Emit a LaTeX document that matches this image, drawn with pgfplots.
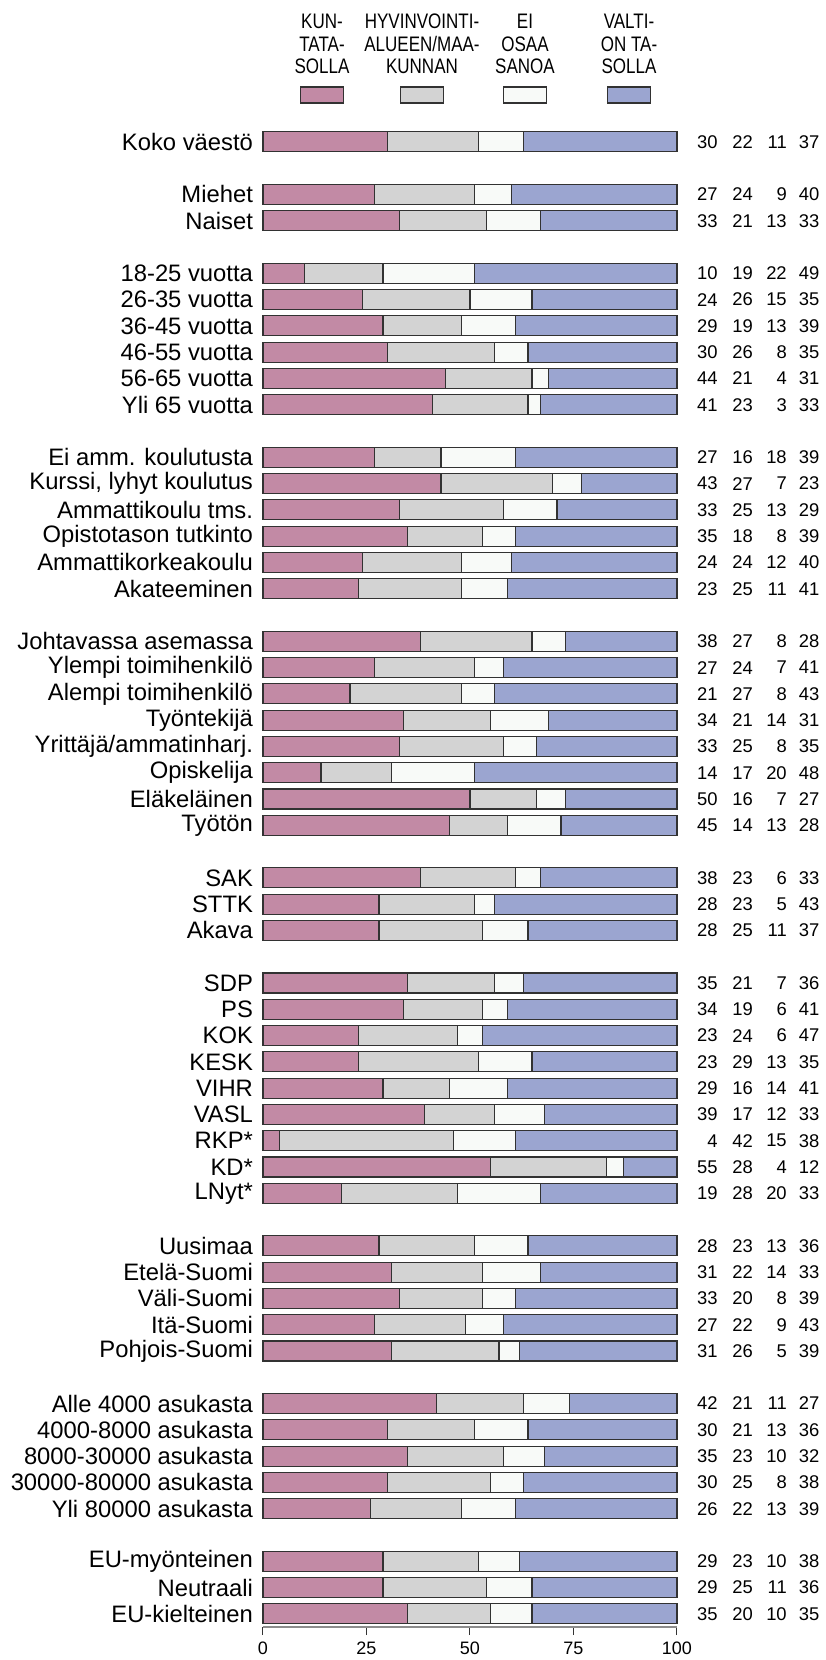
\documentclass[border=0pt]{standalone}
\usepackage{fontspec}
\setmainfont{Liberation Sans}
\newfontfamily\narrowfont[FakeStretch=0.81]{Liberation Sans}
\usepackage{pgfplots}
\usepackage{pgfplotstable}
\pgfplotsset{compat=1.18}
\definecolor{kunta}{RGB}{194,138,165}
\definecolor{hyvi}{RGB}{211,211,211}
\definecolor{eos}{RGB}{248,250,248}
\definecolor{valtio}{RGB}{155,165,208}
\definecolor{edge}{RGB}{50,50,50}

% pos = row slot (groups separated by one empty slot)
% a-d = printed shares, dbar = width of the blue segment as drawn
\pgfplotstableread[col sep=semicolon]{
pos;label;a;b;c;d;dbar
0;Koko väestö;30;22;11;37;37
-2;Miehet;27;24;9;40;40
-3;Naiset;33;21;13;33;33
-5;18-25 vuotta;10;19;22;49;49
-6;26-35 vuotta;24;26;15;35;35
-7;36-45 vuotta;29;19;13;39;39
-8;46-55 vuotta;30;26;8;35;36
-9;56-65 vuotta;44;21;4;31;31
-10;Yli 65 vuotta;41;23;3;33;33
-12;Ei amm. koulutusta;27;16;18;39;39
-13;Kurssi, lyhyt koulutus;43;27;7;23;23
-14;Ammattikoulu tms.;33;25;13;29;29
-15;Opistotason tutkinto;35;18;8;39;39
-16;Ammattikorkeakoulu;24;24;12;40;40
-17;Akateeminen;23;25;11;41;41
-19;Johtavassa asemassa;38;27;8;28;27
-20;Ylempi toimihenkilö;27;24;7;41;42
-21;Alempi toimihenkilö;21;27;8;43;44
-22;Työntekijä;34;21;14;31;31
-23;Yrittäjä/ammatinharj.;33;25;8;35;34
-24;Opiskelija;14;17;20;48;49
-25;Eläkeläinen;50;16;7;27;27
-26;Työtön;45;14;13;28;28
-28;SAK;38;23;6;33;33
-29;STTK;28;23;5;43;44
-30;Akava;28;25;11;37;36
-32;SDP;35;21;7;36;37
-33;PS;34;19;6;41;41
-34;KOK;23;24;6;47;47
-35;KESK;23;29;13;35;35
-36;VIHR;29;16;14;41;41
-37;VASL;39;17;12;33;32
-38;RKP*;4;42;15;38;39
-39;KD*;55;28;4;12;13
-40;LNyt*;19;28;20;33;33
-42;Uusimaa;28;23;13;36;36
-43;Etelä-Suomi;31;22;14;33;33
-44;Väli-Suomi;33;20;8;39;39
-45;Itä-Suomi;27;22;9;43;42
-46;Pohjois-Suomi;31;26;5;39;38
-48;Alle 4000 asukasta;42;21;11;27;26
-49;4000-8000 asukasta;30;21;13;36;36
-50;8000-30000 asukasta;35;23;10;32;32
-51;30000-80000 asukasta;30;25;8;38;37
-52;Yli 80000 asukasta;26;22;13;39;39
-54;EU-myönteinen;29;23;10;38;38
-55;Neutraali;29;25;11;36;35
-56;EU-kielteinen;35;20;10;35;35
}\data

\begin{document}
\begin{tikzpicture}
\useasboundingbox (-131.5pt,-16.5pt) rectangle (281pt,813.5pt);

\begin{axis}[
    at={(0,0)}, anchor=south west,
    scale only axis, width=207pt, height=755.7pt,
    xbar stacked, bar width=10pt,
    xmin=0, xmax=100, ymin=-56.5, ymax=1,
    enlargelimits=false,
    axis lines*=left,
    axis line style={-},
    y axis line style={draw=none},
    x axis line style={draw=black!45, line width=1pt},
    xtick={0,25,50,75,100},
    ytick=data,
    yticklabels from table={\data}{label},
    ytick style={draw=none},
    xtick style={draw=black!80, line width=0.5pt},
    tick align=outside,
    major tick length=4pt,
    yticklabel style={font=\fontsize{11.9}{14}\selectfont, xshift=2.5pt},
    xticklabel style={font=\fontsize{9}{11}\selectfont},
    /pgf/number format/assume math mode=true,
    clip=false,
]
\addplot[fill=kunta, draw=edge, line width=0.6pt] table[x=a, y=pos] {\data};
\addplot[fill=hyvi, draw=edge, line width=0.6pt] table[x=b, y=pos] {\data};
\addplot[fill=eos, draw=edge, line width=0.6pt] table[x=c, y=pos] {\data};
\addplot[fill=valtio, draw=edge, line width=0.6pt] table[x=dbar, y=pos] {\data};
\end{axis}

% printed shares to the right of the bars
\begin{axis}[
    at={(0,0)}, anchor=south west,
    scale only axis, width=207pt, height=755.7pt,
    xmin=0, xmax=100, ymin=-56.5, ymax=1,
    hide axis, clip=false,
    /pgf/number format/assume math mode=true,
    nodes near coords style={anchor=east, inner sep=0pt, font=\fontsize{9.2}{11}\selectfont},
]
\addplot[only marks, mark=none, nodes near coords, point meta=explicit] table[x expr=109.9, y=pos, meta=a] {\data};
\addplot[only marks, mark=none, nodes near coords, point meta=explicit] table[x expr=118.4, y=pos, meta=b] {\data};
\addplot[only marks, mark=none, nodes near coords, point meta=explicit] table[x expr=126.6, y=pos, meta=c] {\data};
\addplot[only marks, mark=none, nodes near coords, point meta=explicit] table[x expr=134.5, y=pos, meta=d] {\data};
\end{axis}

% legend
\tikzset{legtxt/.style={align=center, font=\narrowfont\fontsize{10.5}{11.25}\selectfont}}
\node[legtxt] at (29.5pt,791.5pt) {KUN-\\TATA-\\SOLLA};
\node[legtxt] at (79.5pt,791.5pt) {HYVINVOINTI-\\ALUEEN/MAA-\\KUNNAN};
\node[legtxt] at (131pt,791.5pt) {EI\\OSAA\\SANOA};
\node[legtxt] at (183pt,791.5pt) {VALTI-\\ON TA-\\SOLLA};
\draw[edge, fill=kunta, line width=0.6pt] (18.75pt,762pt) rectangle (40.25pt,770pt);
\draw[edge, fill=hyvi, line width=0.6pt] (68.75pt,762pt) rectangle (90.25pt,770pt);
\draw[edge, fill=eos, line width=0.6pt] (120.25pt,762pt) rectangle (141.75pt,770pt);
\draw[edge, fill=valtio, line width=0.6pt] (172.25pt,762pt) rectangle (193.75pt,770pt);
\end{tikzpicture}
\end{document}
